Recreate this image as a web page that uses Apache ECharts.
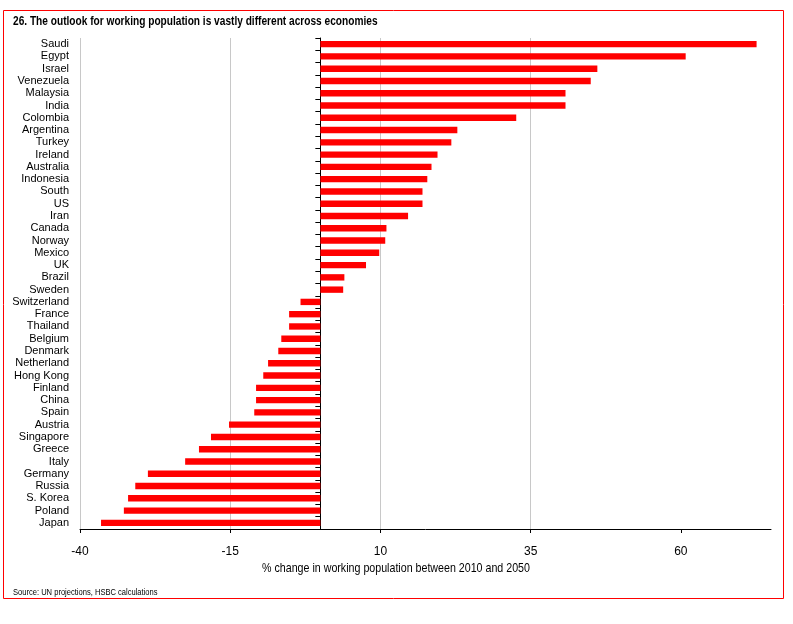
<!DOCTYPE html>
<html>
<head>
<meta charset="utf-8">
<script src="https://cdn.jsdelivr.net/npm/echarts@6/dist/echarts.min.js"></script>
<style>html,body{margin:0;padding:0;background:#fff;}#c{width:793px;height:624px;}</style>
</head>
<body>
<div id="c"></div>
<script>
var countries = ["Saudi","Egypt","Israel","Venezuela","Malaysia","India","Colombia","Argentina","Turkey","Ireland","Australia","Indonesia","South","US","Iran","Canada","Norway","Mexico","UK","Brazil","Sweden","Switzerland","France","Thailand","Belgium","Denmark","Netherland","Hong Kong","Finland","China","Spain","Austria","Singapore","Greece","Italy","Germany","Russia","S. Korea","Poland","Japan"];
var changes = [72.6,60.8,46.1,45.0,40.8,40.8,32.6,22.8,21.8,19.5,18.5,17.8,17.0,17.0,14.6,11.0,10.8,9.8,7.6,4.0,3.8,-3.3,-5.2,-5.2,-6.5,-7.0,-8.7,-9.5,-10.7,-10.7,-11.0,-15.2,-18.2,-20.2,-22.5,-28.7,-30.8,-32.0,-32.7,-36.5];
var xTicks = [-40,-15,10,35,60];
var titleText = "26. The outlook for working population is vastly different across economies";
var axisTitle = "% change in working population between 2010 and 2050";
var sourceText = "Source: UN projections, HSBC calculations";

var FONT = "'Liberation Sans',Arial,sans-serif";
var chart = echarts.init(document.getElementById('c'), null, {renderer:'canvas'});
chart.setOption({
  animation: false,
  backgroundColor: '#fff',
  grid: {left: 80, right: 22, top: 38, bottom: 95, containLabel: false},
  xAxis: {
    type: 'value', min: -40, max: 75, interval: 25,
    axisLine: {show: true, onZero: false, lineStyle: {color: '#000', width: 1}},
    axisTick: {show: true, length: 4, customValues: xTicks, lineStyle: {color: '#000'}},
    axisLabel: {customValues: xTicks, color: '#000', fontSize: 12, fontFamily: FONT, margin: 17},
    splitLine: {show: true, showMaxLine: false, lineStyle: {color: '#c8c8c8', width: 1}}
  },
  yAxis: [
    {
      type: 'category', data: countries, inverse: true, position: 'left',
      axisLine: {show: false, onZero: false},
      axisTick: {show: false},
      axisLabel: {color: '#000', fontSize: 11, fontFamily: FONT, margin: 11, interval: 0},
      splitLine: {show: false}
    },
    {
      type: 'category', data: countries, inverse: true, position: 'left',
      axisLine: {show: true, onZero: true, lineStyle: {color: '#000', width: 1}},
      axisTick: {show: true, length: 5, interval: 0, lineStyle: {color: '#000'}},
      axisLabel: {show: false},
      splitLine: {show: false}
    }
  ],
  series: [{
    type: 'bar', data: changes, yAxisIndex: 0, barWidth: '52%',
    itemStyle: {color: '#ff0000'}
  }],
  graphic: [
    {type: 'rect', shape: {x: 3.5, y: 10.5, width: 780, height: 588}, style: {fill: 'none', stroke: '#ff0000', lineWidth: 1}},
    {type: 'text', x: 13, y: 21, scaleX: 0.78, style: {text: titleText, font: "bold 13px " + FONT, fill: '#000', textVerticalAlign: 'middle'}},
    {type: 'text', x: 396, y: 568, scaleX: 0.82, style: {text: axisTitle, font: "13px " + FONT, fill: '#000', textAlign: 'center', textVerticalAlign: 'middle'}},
    {type: 'text', x: 13, y: 593, scaleX: 0.84, style: {text: sourceText, font: "9px " + FONT, fill: '#000', textVerticalAlign: 'middle'}}
  ]
});
</script>
</body>
</html>
